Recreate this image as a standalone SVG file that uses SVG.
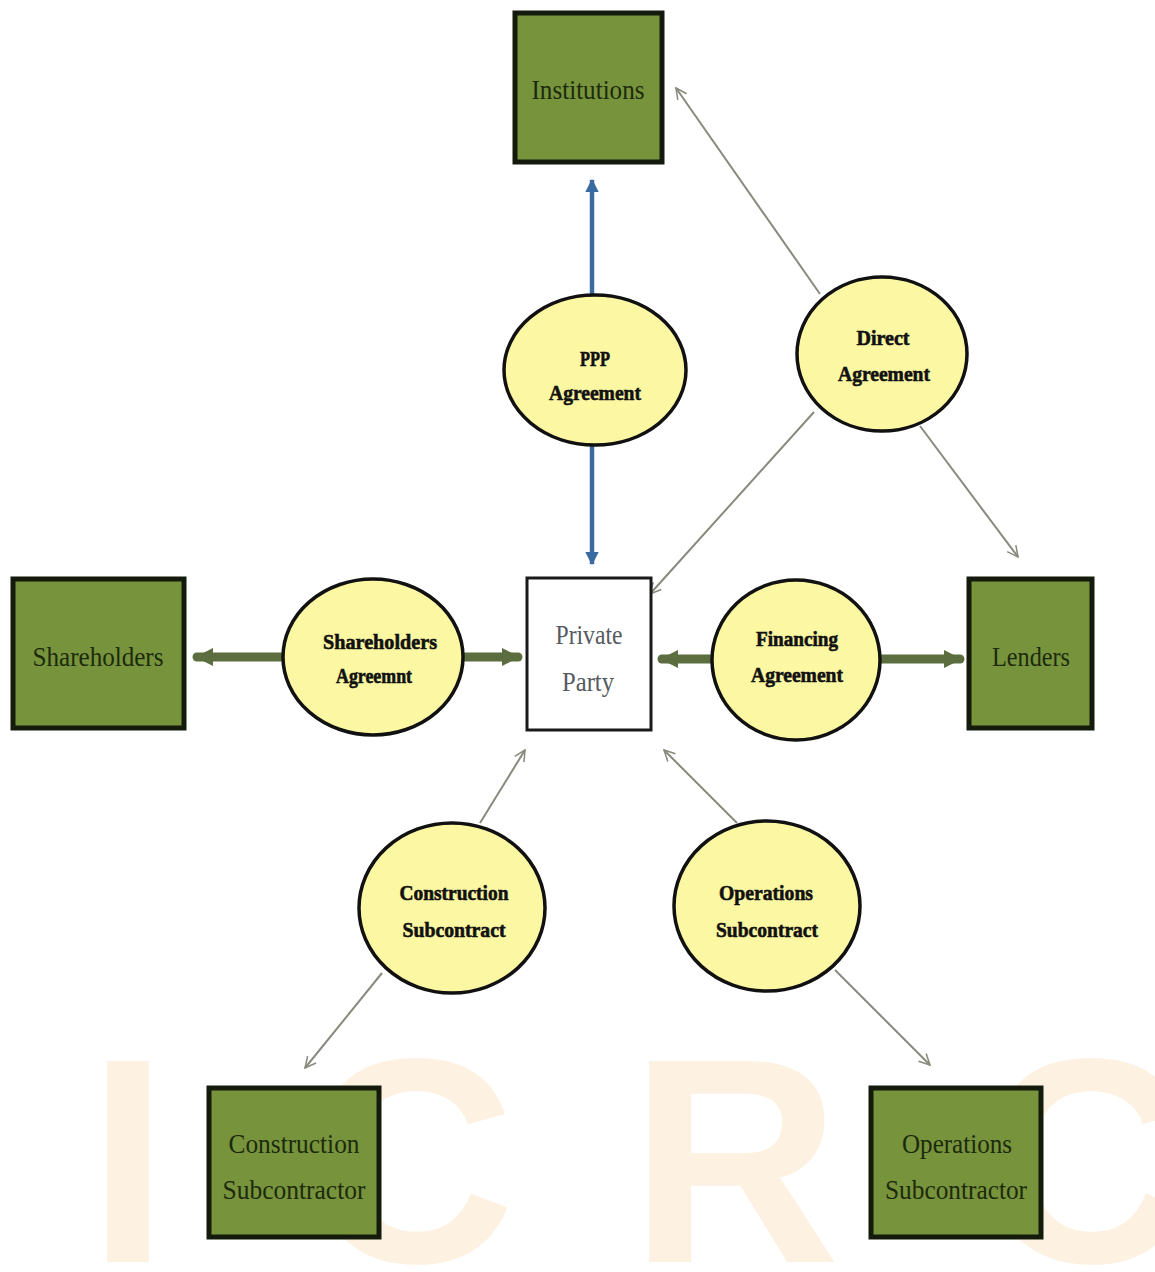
<svg xmlns="http://www.w3.org/2000/svg" width="1155" height="1272" viewBox="0 0 1155 1272">
  <style>
    .box { fill: #77933c; stroke: #141a0c; stroke-width: 5; }
    .party { fill: #ffffff; stroke: #1a1a1a; stroke-width: 3; }
    .oval { fill: #fbf7a2; stroke: #111111; stroke-width: 3.5; }
    .boxlabel { font-family: "Liberation Serif", "Times New Roman", serif; font-size: 28px; fill: #1c2a0c; text-anchor: middle; }
    .partylabel { font-family: "Liberation Serif", "Times New Roman", serif; font-size: 28px; fill: #555a60; text-anchor: middle; }
    .ovallabel { font-family: "Liberation Serif", "Times New Roman", serif; font-size: 22px; font-weight: bold; fill: #111111; stroke: #111111; stroke-width: 0.6; text-anchor: middle; }
    .thin { stroke: #878a7c; stroke-width: 2; fill: none; marker-end: url(#open); }
    .thick { stroke: #5c6d40; stroke-width: 9; fill: none; stroke-linecap: round; marker-end: url(#solidGreen); }
    .blue { stroke: #3a6aa2; stroke-width: 4.5; fill: none; marker-end: url(#solidBlue); }
    .mark { font-family: "Liberation Sans", Arial, sans-serif; font-weight: bold; font-size: 292px; fill: #fdf2e2; text-anchor: middle; }
  </style>
  <defs>
    <marker id="open" viewBox="0 0 12 12" refX="11" refY="6" markerWidth="13" markerHeight="13" markerUnits="userSpaceOnUse" orient="auto">
      <path d="M1,1 L11,6 L1,11" fill="none" stroke="#878a7c" stroke-width="1.4"/>
    </marker>
    <marker id="solidGreen" viewBox="0 0 10 10" refX="9" refY="5" markerWidth="2" markerHeight="2" orient="auto">
      <path d="M0,0 L10,5 L0,10 Z" fill="#5c6d40"/>
    </marker>
    <marker id="solidBlue" viewBox="0 0 10 10" refX="9" refY="5" markerWidth="3" markerHeight="3" orient="auto">
      <path d="M0,0 L10,5 L0,10 Z" fill="#3a6aa2"/>
    </marker>
  </defs>

  <rect width="1155" height="1272" fill="#ffffff"/>

  <!-- background watermark lettering -->
  <g id="watermark">
    <text class="mark" x="128" y="1262">I</text>
    <text class="mark" x="410" y="1262">C</text>
    <text class="mark" x="735" y="1262">R</text>
    <text class="mark" x="1085" y="1262">C</text>
  </g>

  <!-- connectors -->
  <g id="connectors">
    <!-- PPP agreement (blue, both ways) -->
    <line class="blue" x1="592" y1="296" x2="592" y2="180"/>
    <line class="blue" x1="592" y1="445" x2="592" y2="564"/>
    <!-- Direct agreement -->
    <line class="thin" x1="820" y1="294" x2="676" y2="88"/>
    <line class="thin" x1="814" y1="412" x2="650" y2="594"/>
    <line class="thin" x1="920" y1="426" x2="1018" y2="557"/>
    <!-- Shareholders agreement -->
    <line class="thick" x1="283" y1="657" x2="197" y2="657"/>
    <line class="thick" x1="463" y1="657" x2="518" y2="657"/>
    <!-- Financing agreement -->
    <line class="thick" x1="711" y1="659" x2="662" y2="659"/>
    <line class="thick" x1="880" y1="659" x2="960" y2="659"/>
    <!-- Construction subcontract -->
    <line class="thin" x1="480" y1="823" x2="525" y2="750"/>
    <line class="thin" x1="382" y1="973" x2="305" y2="1068"/>
    <!-- Operations subcontract -->
    <line class="thin" x1="737" y1="823" x2="664" y2="750"/>
    <line class="thin" x1="835" y1="970" x2="930" y2="1065"/>
  </g>

  <!-- parties -->
  <g id="institutions">
    <rect class="box" x="515" y="13" width="147" height="149"/>
    <text class="boxlabel" x="588" y="99" textLength="113" lengthAdjust="spacingAndGlyphs">Institutions</text>
  </g>
  <g id="shareholders">
    <rect class="box" x="13" y="579" width="171" height="149"/>
    <text class="boxlabel" x="98" y="666" textLength="131" lengthAdjust="spacingAndGlyphs">Shareholders</text>
  </g>
  <g id="private-party">
    <rect class="party" x="527" y="578" width="124" height="152"/>
    <text class="partylabel" x="589" y="644" textLength="67" lengthAdjust="spacingAndGlyphs">Private</text>
    <text class="partylabel" x="588" y="691" textLength="52" lengthAdjust="spacingAndGlyphs">Party</text>
  </g>
  <g id="lenders">
    <rect class="box" x="969" y="579" width="123" height="149"/>
    <text class="boxlabel" x="1031" y="666" textLength="78" lengthAdjust="spacingAndGlyphs">Lenders</text>
  </g>
  <g id="construction-subcontractor">
    <rect class="box" x="209" y="1088" width="170" height="149"/>
    <text class="boxlabel" x="294" y="1153" textLength="131" lengthAdjust="spacingAndGlyphs">Construction</text>
    <text class="boxlabel" x="294" y="1199" textLength="143" lengthAdjust="spacingAndGlyphs">Subcontractor</text>
  </g>
  <g id="operations-subcontractor">
    <rect class="box" x="871" y="1088" width="170" height="149"/>
    <text class="boxlabel" x="957" y="1153" textLength="110" lengthAdjust="spacingAndGlyphs">Operations</text>
    <text class="boxlabel" x="956" y="1199" textLength="142" lengthAdjust="spacingAndGlyphs">Subcontractor</text>
  </g>

  <!-- agreements -->
  <g id="ppp-agreement">
    <ellipse class="oval" cx="595" cy="370" rx="91" ry="75"/>
    <text class="ovallabel" x="595" y="366" textLength="30" lengthAdjust="spacingAndGlyphs">PPP</text>
    <text class="ovallabel" x="595" y="400" textLength="92" lengthAdjust="spacingAndGlyphs">Agreement</text>
  </g>
  <g id="direct-agreement">
    <ellipse class="oval" cx="882" cy="354" rx="85" ry="77"/>
    <text class="ovallabel" x="883" y="345" textLength="53" lengthAdjust="spacingAndGlyphs">Direct</text>
    <text class="ovallabel" x="884" y="381" textLength="92" lengthAdjust="spacingAndGlyphs">Agreement</text>
  </g>
  <g id="shareholders-agreement">
    <ellipse class="oval" cx="373" cy="657" rx="90" ry="78"/>
    <text class="ovallabel" x="380" y="649" textLength="114" lengthAdjust="spacingAndGlyphs">Shareholders</text>
    <text class="ovallabel" x="374" y="683" textLength="76" lengthAdjust="spacingAndGlyphs">Agreemnt</text>
  </g>
  <g id="financing-agreement">
    <ellipse class="oval" cx="796" cy="660" rx="84" ry="80"/>
    <text class="ovallabel" x="797" y="646" textLength="82" lengthAdjust="spacingAndGlyphs">Financing</text>
    <text class="ovallabel" x="797" y="682" textLength="92" lengthAdjust="spacingAndGlyphs">Agreement</text>
  </g>
  <g id="construction-subcontract">
    <ellipse class="oval" cx="452" cy="908" rx="93" ry="85"/>
    <text class="ovallabel" x="454" y="900" textLength="109" lengthAdjust="spacingAndGlyphs">Construction</text>
    <text class="ovallabel" x="454" y="937" textLength="103" lengthAdjust="spacingAndGlyphs">Subcontract</text>
  </g>
  <g id="operations-subcontract">
    <ellipse class="oval" cx="767" cy="906" rx="93" ry="85"/>
    <text class="ovallabel" x="766" y="900" textLength="94" lengthAdjust="spacingAndGlyphs">Operations</text>
    <text class="ovallabel" x="767" y="937" textLength="102" lengthAdjust="spacingAndGlyphs">Subcontract</text>
  </g>
</svg>
